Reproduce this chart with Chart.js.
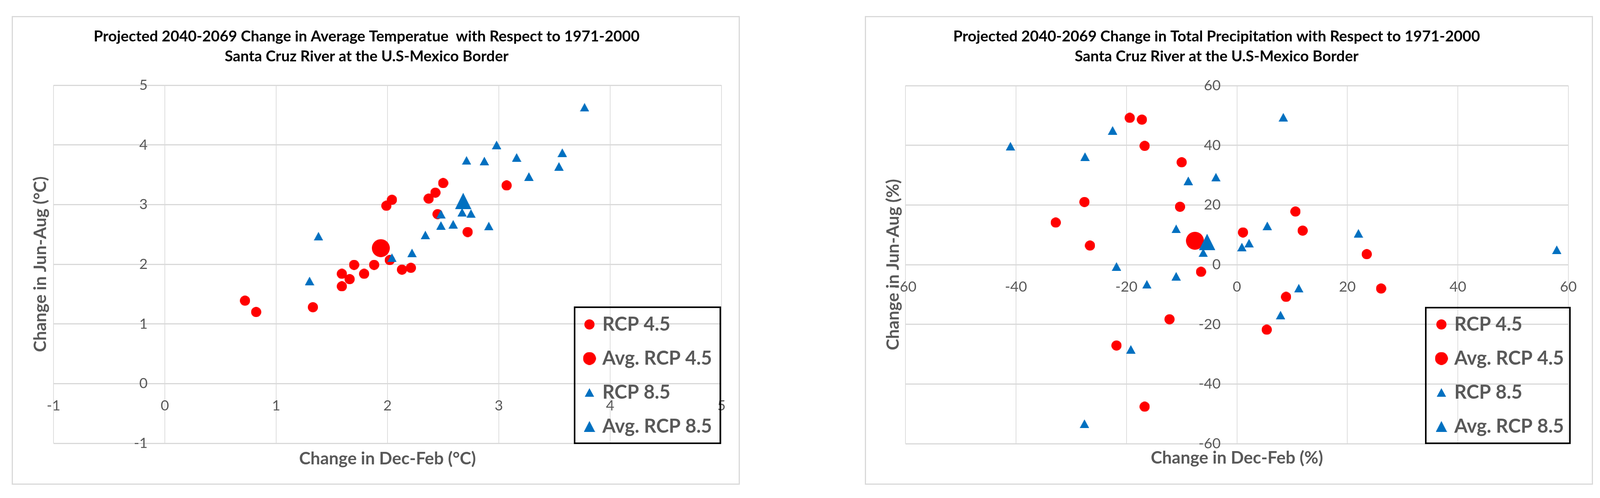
<!DOCTYPE html>
<html>
<head>
<meta charset="utf-8">
<script src="https://cdn.jsdelivr.net/npm/chart.js@4.4.1/dist/chart.umd.min.js"></script>
<style>
  body { margin: 0; background: #fff; width: 4097px; height: 1274px; position: relative; overflow: hidden; }
  canvas { position: absolute; top: 41px; }
  #tempChart { left: 30px; }
  #precChart { left: 2214px; }
</style>
</head>
<body>
<canvas id="tempChart" width="1864" height="1199"></canvas>
<canvas id="precChart" width="1864" height="1199"></canvas>
<script>
// series names (same for both charts)
const seriesNames = ["RCP 4.5", "Avg. RCP 4.5", "RCP 8.5", "Avg. RCP 8.5"];

// temperature chart, change in degC (Dec-Feb on x, Jun-Aug on y)
const tempRcp45X = [0.72, 0.82, 1.33, 1.59, 1.59, 1.66, 1.70, 1.79, 1.88, 2.02, 2.13, 2.21, 1.99, 2.04, 2.37, 2.43, 2.50, 2.45, 3.07, 2.72];
const tempRcp45Y = [1.39, 1.20, 1.28, 1.63, 1.84, 1.75, 1.99, 1.84, 1.99, 2.07, 1.91, 1.94, 2.98, 3.08, 3.10, 3.20, 3.36, 2.84, 3.32, 2.54];
const tempAvg45X = [1.94];
const tempAvg45Y = [2.27];
const tempRcp85X = [1.38, 1.30, 2.04, 2.22, 2.34, 2.48, 2.48, 2.59, 2.67, 2.75, 2.91, 2.71, 2.87, 2.98, 3.16, 3.27, 3.54, 3.57, 3.77];
const tempRcp85Y = [2.47, 1.72, 2.11, 2.19, 2.49, 2.65, 2.84, 2.67, 2.87, 2.85, 2.64, 3.74, 3.73, 4.00, 3.79, 3.47, 3.64, 3.87, 4.63];
const tempAvg85X = [2.68];
const tempAvg85Y = [3.06];
const tempTicks = [-1, 0, 1, 2, 3, 4, 5];

// precipitation chart, change in %
const precRcp45X = [-27.6, -32.8, -26.6, -19.4, -17.2, -16.7, -10.0, -10.3, 1.1, 10.6, 11.9, 23.5, -6.5, -12.2, -21.8, -16.7, 8.9, 5.4, 26.1];
const precRcp45Y = [21.0, 14.1, 6.4, 49.2, 48.6, 39.8, 34.3, 19.4, 10.8, 17.8, 11.4, 3.5, -2.4, -18.3, -27.1, -47.6, -10.8, -21.8, -8.0];
const precAvg45X = [-7.6];
const precAvg45Y = [8.0];
const precRcp85X = [-41.0, -27.5, -22.5, -8.8, -3.8, -11.0, -6.1, 0.9, 2.2, 5.5, 8.4, 22.0, 57.9, -21.8, -11.0, -16.3, -19.2, -27.6, 11.2, 7.9];
const precRcp85Y = [39.7, 36.2, 45.0, 28.1, 29.3, 12.0, 4.0, 5.9, 7.2, 13.0, 49.4, 10.5, 5.0, -0.6, -3.9, -6.6, -28.4, -53.3, -7.9, -16.9];
const precAvg85X = [-5.4];
const precAvg85Y = [7.6];
const precTicks = [-60, -40, -20, 0, 20, 40, 60];

const FONT = "Lato, 'Open Sans', sans-serif";
const RED = "#ff0000";
const BLUE = "#0070c0";
const GREY = "#595959";

// marker pictures, drawn by Chart.js as point styles
function dot(d, color) {
  const c = document.createElement("canvas");
  c.width = d; c.height = d;
  const g = c.getContext("2d");
  g.fillStyle = color;
  g.beginPath();
  g.arc(d / 2, d / 2, d / 2, 0, Math.PI * 2);
  g.fill();
  return c;
}
function tri(w, h, color) {
  const c = document.createElement("canvas");
  c.width = w; c.height = h;
  const g = c.getContext("2d");
  g.fillStyle = color;
  g.beginPath();
  g.moveTo(w / 2, 0);
  g.lineTo(w, h);
  g.lineTo(0, h);
  g.closePath();
  g.fill();
  return c;
}
const plotMarks = [dot(26, RED), dot(46, RED), tri(24, 22, BLUE), tri(42, 42, BLUE)];
const legendMarks = [dot(26, RED), dot(33, RED), tri(24, 22, BLUE), tri(29, 28, BLUE)];

// frame round the chart, legend and y tick label placement, legend box
const boxPlugin = {
  id: "boxes",
  afterLayout(chart, args, o) {
    const lg = chart.legend;
    lg.left = o.legendX; lg.top = o.legendY;
    lg.width = 440; lg.height = 460;
    lg.right = lg.left + lg.width; lg.bottom = lg.top + lg.height;
    // y tick labels sit just left of the x = 0 line, as in Excel
    const y2 = chart.scales.y2;
    y2.left = 0;
    y2.right = o.yLabelRight;
    y2._labelItems = null;
  },
  beforeDraw(chart) {
    const ctx = chart.ctx;
    ctx.save();
    ctx.strokeStyle = "#d9d9d9";
    ctx.lineWidth = 3;
    ctx.strokeRect(1.5, 1.5, chart.width - 3, chart.height - 3);
    ctx.restore();
  },
  afterDraw(chart, args, o) {
    const ctx = chart.ctx;
    const b = o.box;
    ctx.save();
    ctx.strokeStyle = "#000";
    ctx.lineWidth = 4;
    ctx.strokeRect(b[0], b[1], b[2] - b[0], b[3] - b[1]);
    ctx.restore();
  }
};

function pts(xs, ys) {
  return xs.map((x, i) => ({ x: x, y: ys[i] }));
}

function makeChart(id, d) {
  const lo = d.ticks[0];
  const hi = d.ticks[d.ticks.length - 1];
  const step = d.ticks[1] - d.ticks[0];
  const tickFont = { family: FONT, size: 37 };
  const titleFont = { family: FONT, size: 44, weight: "bold" };

  new Chart(document.getElementById(id), {
    type: "scatter",
    data: {
      datasets: [
        { label: seriesNames[0], data: pts(d.r45x, d.r45y), pointStyle: plotMarks[0], pointRadius: 13, order: 4 },
        { label: seriesNames[1], data: pts(d.a45x, d.a45y), pointStyle: plotMarks[1], pointRadius: 23, order: 3 },
        { label: seriesNames[2], data: pts(d.r85x, d.r85y), pointStyle: plotMarks[2], pointRadius: 12, order: 2 },
        { label: seriesNames[3], data: pts(d.a85x, d.a85y), pointStyle: plotMarks[3], pointRadius: 21, order: 1 }
      ]
    },
    options: {
      responsive: false,
      animation: false,
      events: [],
      layout: { padding: { left: 0, top: 0, bottom: 0, right: d.padRight } },
      scales: {
        x: {
          type: "linear", position: "bottom", min: lo, max: hi,
          ticks: { display: false, stepSize: step },
          grid: { color: "#dedede", lineWidth: 2, drawTicks: false },
          border: { display: false },
          title: { display: true, text: d.xTitle, color: GREY, font: titleFont, padding: { top: 0, bottom: d.xTitlePad } },
          afterFit: s => { s.height = d.bottomH; }
        },
        y: {
          type: "linear", position: "left", min: lo, max: hi,
          ticks: { display: false, stepSize: step },
          grid: { color: "#d9d9d9", lineWidth: 3, drawTicks: false },
          border: { display: false },
          title: { display: true, text: d.yTitle, color: GREY, font: titleFont, padding: { top: d.yTitlePad, bottom: 0 } },
          afterFit: s => { s.width = d.leftW; }
        },
        x2: {
          type: "linear", axis: "x", position: { y: 0 }, min: lo, max: hi,
          ticks: { stepSize: step, color: GREY, font: tickFont, padding: 35, maxRotation: 0 },
          grid: { display: false, drawTicks: false },
          border: { display: false },
          afterFit: s => { s.height = 0; }
        },
        y2: {
          type: "linear", axis: "y", position: "left", min: lo, max: hi,
          ticks: { stepSize: step, color: GREY, font: tickFont, padding: 0 },
          grid: { display: false, drawTicks: false },
          border: { display: false },
          afterFit: s => { s.width = 0; }
        }
      },
      plugins: {
        title: {
          display: true, text: d.title, color: "#000",
          font: { family: FONT, size: 38.5, weight: "bold", lineHeight: 51 / 38.5 },
          padding: { top: 27.5, bottom: d.titlePadBottom }
        },
        legend: {
          display: true, position: "chartArea", align: "start",
          labels: {
            usePointStyle: true, boxWidth: 17, pointStyleWidth: 17, padding: 38,
            color: GREY, font: { family: FONT, size: 49, weight: "bold" },
            generateLabels: chart => chart.data.datasets.map((ds, i) => ({
              text: ds.label, pointStyle: legendMarks[i], fillStyle: "transparent",
              strokeStyle: "transparent", lineWidth: 0, hidden: false, datasetIndex: i, fontColor: GREY
            }))
          }
        },
        tooltip: { enabled: false },
        boxes: { legendX: d.legendX, legendY: 726.5, box: d.legendBox, yLabelRight: d.yLabelRight }
      }
    },
    plugins: [boxPlugin]
  });
}

makeChart("tempChart", {
  r45x: tempRcp45X, r45y: tempRcp45Y, a45x: tempAvg45X, a45y: tempAvg45Y,
  r85x: tempRcp85X, r85y: tempRcp85Y, a85x: tempAvg85X, a85y: tempAvg85Y,
  ticks: tempTicks,
  title: ["Projected 2040-2069 Change in Average Temperatue  with Respect to 1971-2000", "Santa Cruz River at the U.S-Mexico Border"],
  xTitle: "Change in Dec-Feb (\u00b0C)",
  yTitle: "Change in Jun-Aug (\u00b0C)",
  padRight: 47, bottomH: 106, leftW: 107, titlePadBottom: 47.5,
  xTitlePad: 39.6, yTitlePad: 47.6, yLabelRight: 348,
  legendX: 1432.5, legendBox: [1441, 745, 1814, 1093]
});

makeChart("precChart", {
  r45x: precRcp45X, r45y: precRcp45Y, a45x: precAvg45X, a45y: precAvg45Y,
  r85x: precRcp85X, r85y: precRcp85Y, a85x: precAvg85X, a85y: precAvg85Y,
  ticks: precTicks,
  title: ["Projected 2040-2069 Change in Total Precipitation with Respect to 1971-2000", "Santa Cruz River at the U.S-Mexico Border"],
  xTitle: "Change in Dec-Feb (%)",
  yTitle: "Change in Jun-Aug (%)",
  padRight: 63, bottomH: 105, leftW: 104, titlePadBottom: 48.5,
  xTitlePad: 41.6, yTitlePad: 46.6, yLabelRight: 911,
  legendX: 1429.5, legendBox: [1436, 746, 1805, 1093]
});
</script>
</body>
</html>
